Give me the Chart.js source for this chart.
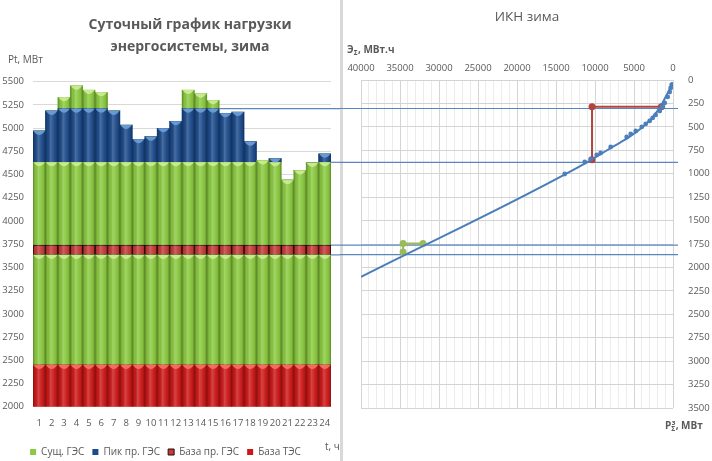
<!DOCTYPE html>
<html>
<head>
<meta charset="utf-8">
<script src="https://cdn.jsdelivr.net/npm/chart.js@4"></script>
<style>
  html, body { margin: 0; padding: 0; background: #fff; }
  #wrap { position: relative; width: 712px; height: 461px; overflow: hidden; }
  #loadChart { position: absolute; left: 0; top: 0; }
  #sep { position: absolute; left: 340px; top: 0; width: 3px; height: 461px; background: #d9d9d9; }
  #iknChart { position: absolute; left: 340px; top: 0; }
</style>
</head>
<body>
<div id="wrap">
  <canvas id="loadChart" width="343" height="461"></canvas>
  <div id="sep"></div>
  <canvas id="iknChart" width="372" height="461"></canvas>
</div>
<script>
// --- daily load chart, MW per hour, one array per stacked layer (bottom to top)
const hours = ['1', '2', '3', '4', '5', '6', '7', '8', '9', '10', '11', '12',
  '13', '14', '15', '16', '17', '18', '19', '20', '21', '22', '23', '24'];
const tesBase = [2450, 2450, 2450, 2450, 2450, 2450, 2450, 2450, 2450, 2450, 2450, 2450,
  2450, 2450, 2450, 2450, 2450, 2450, 2450, 2450, 2450, 2450, 2450, 2450];
const gesLow = [1185, 1185, 1185, 1185, 1185, 1185, 1185, 1185, 1185, 1185, 1185, 1185,
  1185, 1185, 1185, 1185, 1185, 1185, 1185, 1185, 1185, 1185, 1185, 1185];
const prBase = [105, 105, 105, 105, 105, 105, 105, 105, 105, 105, 105, 105,
  105, 105, 105, 105, 105, 105, 105, 105, 105, 105, 105, 105];
const gesMid = [892, 892, 892, 892, 892, 892, 892, 892, 892, 892, 892, 892,
  892, 892, 892, 892, 892, 892, 912, 892, 700, 805, 885, 892];
const prPeak = [338, 553, 578, 578, 578, 578, 553, 402, 248, 276, 366, 441,
  578, 578, 578, 528, 542, 222, 0, 40, 0, 0, 0, 91];
const gesTop = [0, 0, 122, 247, 200, 176, 0, 0, 0, 0, 0, 0,
  200, 161, 90, 0, 0, 0, 0, 0, 0, 0, 0, 0];

// levels carried over to the IKN chart
const loadLevels = [5210, 4632, 3740, 3635];
const levelStart = [14.5, 23.5, 23.5, 23.5];

// --- IKN (integral load curve): energy MWh vs power MW
const curveE = [60, 500, 950, 1490, 2560, 3850, 5550, 7690, 9820, 10680, 40000];
const curveP = [25, 110, 180, 267, 392, 498, 605, 712, 818, 862, 2100];
const dotE = [170, 300, 420, 680, 1060, 1320, 1700, 2220, 2600, 2990, 3500,
  4010, 4780, 5420, 5940, 7990, 9270, 9780, 10550, 11320, 13880];
const dotP = [50, 85, 128, 181, 245, 288, 331, 373, 405, 437, 469,
  501, 544, 576, 608, 715, 779, 800, 843, 875, 1003];
const redE = [1490, 10380, 10380];
const redP = [285, 285, 850];
const greenE = [32050, 34600, 34600];
const greenP = [1745, 1745, 1835];
const iknLevels = [304, 878, 1761, 1864];

const FONT = '"Open Sans", sans-serif';
const GREY = '#595959';
Chart.defaults.font.family = FONT;
Chart.defaults.color = GREY;

function pts(xs, ys) {
  return xs.map((x, i) => ({x: x, y: ys[i]}));
}

// cylinder-like shading + light cap on top of every segment
const barShade = {
  id: 'barShade',
  afterDatasetsDraw(chart) {
    const {ctx, chartArea} = chart;
    ctx.save();
    ctx.beginPath();
    ctx.rect(chartArea.left, chartArea.top, chartArea.right - chartArea.left, chartArea.bottom - chartArea.top);
    ctx.clip();
    chart.data.datasets.forEach((ds, i) => {
      const meta = chart.getDatasetMeta(i);
      meta.data.forEach((bar, j) => {
        if (!ds.data[j]) return;
        const p = bar.getProps(['x', 'y', 'base', 'width'], true);
        const l = p.x - p.width / 2;
        const r = p.x + p.width / 2;
        const top = Math.min(p.y, p.base);
        const bot = Math.min(Math.max(p.y, p.base), chartArea.bottom);
        const g = ctx.createLinearGradient(l, 0, r, 0);
        g.addColorStop(0, 'rgba(0,0,0,0.32)');
        g.addColorStop(0.18, 'rgba(0,0,0,0.04)');
        g.addColorStop(0.42, 'rgba(255,255,255,0.20)');
        g.addColorStop(0.62, 'rgba(255,255,255,0.08)');
        g.addColorStop(0.85, 'rgba(0,0,0,0.06)');
        g.addColorStop(1, 'rgba(0,0,0,0.34)');
        ctx.fillStyle = g;
        ctx.fillRect(l, top, r - l, bot - top);
        if (ds.capColor) {
          ctx.beginPath();
          ctx.moveTo(l + 0.5, top);
          ctx.quadraticCurveTo(p.x, top + 8, r - 0.5, top);
          ctx.closePath();
          ctx.fillStyle = ds.capColor;
          ctx.fill();
        }
      });
    });
    ctx.restore();
  }
};

const loadExtras = {
  id: 'loadExtras',
  afterDatasetsDraw(chart) {
    const {ctx} = chart;
    const x = chart.scales.x;
    const y = chart.scales.y;
    ctx.save();
    ctx.strokeStyle = '#5a86bf';
    ctx.lineWidth = 1.2;
    loadLevels.forEach((v, i) => {
      const py = y.getPixelForValue(v);
      ctx.beginPath();
      ctx.moveTo(x.getPixelForValue(levelStart[i]), py);
      ctx.lineTo(chart.width, py);
      ctx.stroke();
    });
    ctx.restore();
  },
  afterDraw(chart) {
    const {ctx} = chart;
    ctx.save();
    ctx.fillStyle = GREY;
    ctx.textBaseline = 'middle';
    ctx.textAlign = 'center';
    ctx.font = 'bold 14px ' + FONT;
    ctx.fillText('Суточный график нагрузки', 190, 25);
    ctx.fillText('энергосистемы, зима', 190, 47);
    ctx.textAlign = 'left';
    ctx.font = '10px ' + FONT;
    ctx.fillText('Pt, МВт', 8, 60);
    ctx.fillText('t, ч', 325, 447);
    ctx.restore();
  }
};

const legendOrder = [1, 4, 2, 0];

new Chart(document.getElementById('loadChart'), {
  type: 'bar',
  data: {
    labels: hours,
    datasets: [
      {label: 'База ТЭС', data: tesBase, backgroundColor: '#cc1818', capColor: 'rgba(245,115,105,0.9)'},
      {label: 'Сущ. ГЭС', data: gesLow, backgroundColor: '#8ac940', capColor: 'rgba(205,236,150,0.9)'},
      {label: 'База пр. ГЭС', data: prBase, backgroundColor: '#c43a3a', borderColor: '#2b0b0b',
        borderWidth: 1, borderSkipped: false},
      {label: 'Сущ. ГЭС', data: gesMid, backgroundColor: '#8ac940', capColor: 'rgba(205,236,150,0.9)'},
      {label: 'Пик пр. ГЭС', data: prPeak, backgroundColor: '#1d4b8a', capColor: 'rgba(110,160,220,0.9)'},
      {label: 'Сущ. ГЭС', data: gesTop, backgroundColor: '#8ac940', capColor: 'rgba(205,236,150,0.9)'}
    ]
  },
  options: {
    responsive: false,
    animation: false,
    layout: {padding: {top: 81.7, left: 0, right: 12, bottom: -6}},
    datasets: {bar: {barPercentage: 1, categoryPercentage: 1}},
    plugins: {
      tooltip: {enabled: false},
      legend: {
        position: 'bottom',
        labels: {
          boxWidth: 6,
          boxHeight: 6,
          padding: 8,
          color: GREY,
          font: {size: 10},
          filter: item => legendOrder.includes(item.datasetIndex),
          sort: (a, b) => legendOrder.indexOf(a.datasetIndex) - legendOrder.indexOf(b.datasetIndex)
        }
      }
    },
    scales: {
      x: {
        stacked: true,
        grid: {display: false, drawTicks: false},
        border: {display: false},
        ticks: {autoSkip: false, maxRotation: 0, padding: 11, font: {size: 9.5}},
        afterFit(s) {
          const leg = s.chart.legend ? s.chart.legend.height : 28;
          s.height = s.chart.height + 6 - leg - 406.7;
        }
      },
      y: {
        stacked: true,
        min: 2000,
        max: 5500,
        grid: {color: '#d9d9d9', drawTicks: false},
        border: {display: false},
        ticks: {stepSize: 250, padding: 9, font: {size: 9.5}, callback: v => v},
        afterFit(s) { s.width = 33; }
      }
    }
  },
  plugins: [barShade, loadExtras]
});

const iknExtras = {
  id: 'iknExtras',
  beforeDatasetsDraw(chart) {
    const {ctx, chartArea} = chart;
    const y = chart.scales.y;
    ctx.save();
    ctx.strokeStyle = '#5a86bf';
    ctx.lineWidth = 1.2;
    iknLevels.forEach(v => {
      const py = y.getPixelForValue(v);
      ctx.beginPath();
      ctx.moveTo(0, py);
      ctx.lineTo(chartArea.right + 5, py);
      ctx.stroke();
    });
    ctx.restore();
  },
  afterDraw(chart) {
    const {ctx} = chart;
    ctx.save();
    ctx.fillStyle = GREY;
    ctx.textBaseline = 'middle';
    ctx.textAlign = 'center';
    ctx.font = '13.5px ' + FONT;
    ctx.fillText('ИКН зима', 187, 17);
    ctx.textAlign = 'left';
    // Э_Σ, МВт.ч
    let x = 7;
    ctx.font = 'bold 10px ' + FONT;
    ctx.fillText('Э', x, 50);
    x += ctx.measureText('Э').width;
    ctx.font = 'bold 6.5px ' + FONT;
    ctx.fillText('Σ', x, 53);
    x += ctx.measureText('Σ').width + 0.5;
    ctx.font = 'bold 10px ' + FONT;
    ctx.fillText(', МВт.ч', x, 50);
    // P_Σ^з, МВт
    x = 325;
    ctx.fillText('P', x, 426);
    x += ctx.measureText('P').width;
    ctx.font = 'bold 6.5px ' + FONT;
    ctx.fillText('Σ', x, 429);
    ctx.fillText('з', x + 0.5, 423);
    x += ctx.measureText('Σ').width + 0.5;
    ctx.font = 'bold 10px ' + FONT;
    ctx.fillText(', МВт', x, 426);
    ctx.restore();
  }
};

new Chart(document.getElementById('iknChart'), {
  type: 'scatter',
  data: {
    datasets: [
      {label: 'ИКН', data: pts(curveE, curveP), showLine: true, borderColor: '#4a7ebb', borderWidth: 2,
        pointRadius: 0, cubicInterpolationMode: 'monotone'},
      {label: 'Часы', data: pts(dotE, dotP), showLine: false, pointRadius: 2.4,
        backgroundColor: '#4f81bd', borderColor: '#4f81bd', borderWidth: 0},
      {label: 'Пик', data: pts(redE, redP), showLine: true, borderColor: '#b0453f', borderWidth: 2,
        pointRadius: 2.5, backgroundColor: '#b0453f'},
      {label: 'База', data: pts(greenE, greenP), showLine: true, borderColor: '#9bbb59', borderWidth: 2,
        pointRadius: 2.5, backgroundColor: '#9bbb59'}
    ]
  },
  options: {
    responsive: false,
    animation: false,
    layout: {padding: {top: 60, left: 21, right: 0, bottom: 53}},
    plugins: {legend: {display: false}, tooltip: {enabled: false}},
    scales: {
      x: {
        type: 'linear',
        position: 'top',
        reverse: true,
        min: 0,
        max: 40000,
        border: {display: false},
        grid: {
          drawTicks: false,
          color: c => (c.tick && c.tick.value % 5000 === 0) ? '#d4d4d4' : '#ececec'
        },
        ticks: {
          stepSize: 1000, autoSkip: false, maxRotation: 0, padding: 6, font: {size: 9.5},
          callback: v => (v % 5000 === 0 ? v : '')
        },
        afterFit(s) { s.height = 20; }
      },
      y: {
        type: 'linear',
        position: 'right',
        reverse: true,
        min: 0,
        max: 3500,
        border: {display: false},
        grid: {drawTicks: false, color: '#d4d4d4'},
        ticks: {stepSize: 250, padding: 15, font: {size: 9.5}, callback: v => v},
        afterFit(s) { s.width = 39; }
      }
    }
  },
  plugins: [iknExtras]
});
</script>
</body>
</html>
